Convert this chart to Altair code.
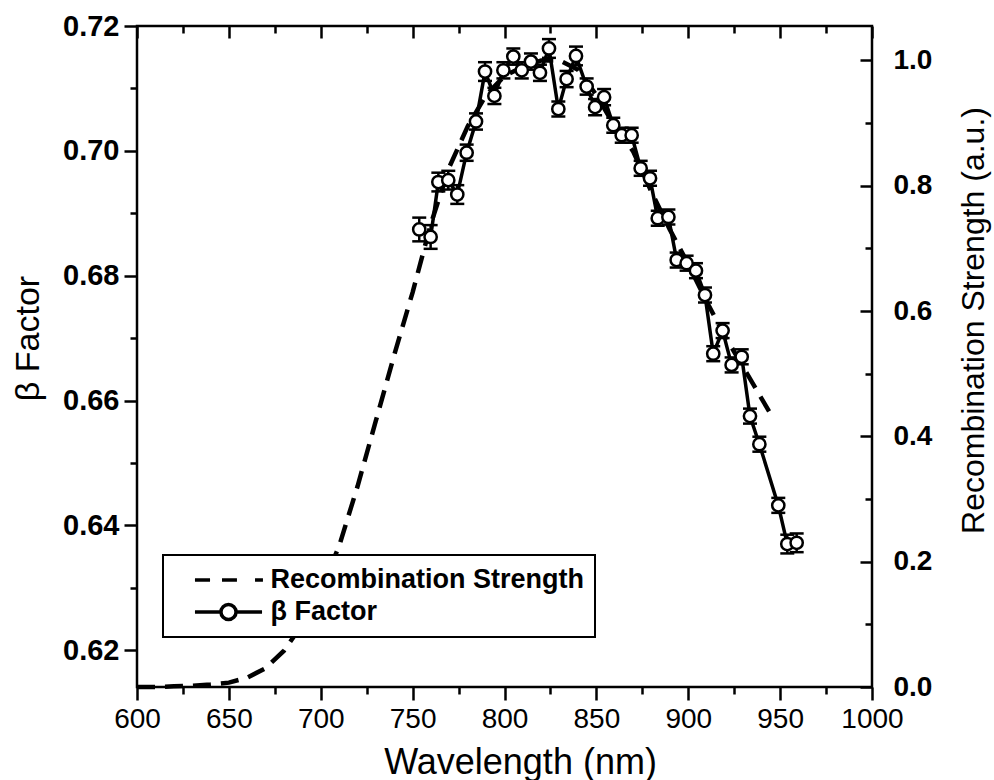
import altair as alt
import pandas as pd

# ---- data ----
wl_beta = [753.6, 759.8, 764.0, 769.4, 774.3, 779.4, 784.5, 789.4, 794.5, 799.4,
           804.8, 809.4, 814.4, 819.3, 824.2, 829.3, 833.8, 838.9, 844.7, 849.3,
           854.2, 859.2, 863.8, 869.2, 874.1, 879.2, 883.4, 889.2, 893.7, 899.1,
           904.2, 909.1, 913.6, 918.7, 923.6, 929.1, 933.6, 938.7, 949.0, 953.9, 959.0]
beta = [0.6874, 0.6862, 0.6950, 0.6953, 0.6930, 0.6997, 0.7047, 0.7127, 0.7088, 0.7129,
        0.7151, 0.7129, 0.7143, 0.7125, 0.7164, 0.7067, 0.7115, 0.7152, 0.7103, 0.7070,
        0.7086, 0.7041, 0.7025, 0.7025, 0.6972, 0.6956, 0.6892, 0.6894, 0.6825, 0.6820,
        0.6808, 0.6769, 0.6675, 0.6712, 0.6657, 0.6670, 0.6575, 0.6530, 0.6432, 0.6370, 0.6372]
beta_err = [0.0019, 0.0019, 0.0015, 0.0015, 0.0015, 0.0013, 0.0013, 0.0015, 0.0013, 0.0013,
            0.0013, 0.0013, 0.0013, 0.0013, 0.0015, 0.0012, 0.0013, 0.0015, 0.0013, 0.0013,
            0.0013, 0.0012, 0.0012, 0.0012, 0.0012, 0.0012, 0.0012, 0.0012, 0.0012, 0.0012,
            0.0012, 0.0012, 0.0012, 0.0012, 0.0012, 0.0012, 0.0012, 0.0012, 0.0012, 0.0015, 0.0015]

wl_rec = [600, 610, 620, 630, 640, 650, 660, 670, 680, 690, 700, 710, 720, 730, 740,
          750, 760, 770, 780, 790, 800, 810, 820, 830, 840, 850, 860, 870, 880, 890,
          900, 910, 920, 930, 940, 944]
rec = [0.0, 0.0, 0.001, 0.002, 0.004, 0.007, 0.015, 0.03, 0.058, 0.10, 0.155, 0.225, 0.32, 0.425, 0.53,
       0.63, 0.74, 0.83, 0.895, 0.945, 0.975, 0.99, 1.0, 1.0, 0.985, 0.945, 0.895, 0.855, 0.79, 0.73,
       0.675, 0.615, 0.56, 0.51, 0.46, 0.44]

series_names = ["Recombination Strength", "β Factor"]

x_major = [600, 650, 700, 750, 800, 850, 900, 950, 1000]
x_minor = [625, 675, 725, 775, 825, 875, 925, 975]
yl_major = [0.62, 0.64, 0.66, 0.68, 0.70, 0.72]
yl_minor = [0.63, 0.65, 0.67, 0.69, 0.71]
yr_major = [0.0, 0.2, 0.4, 0.6, 0.8, 1.0]
yr_minor = [0.1, 0.3, 0.5, 0.7, 0.9]

df_beta = pd.DataFrame({
    "wl": wl_beta,
    "beta": beta,
    "lo": [b - e for b, e in zip(beta, beta_err)],
    "hi": [b + e for b, e in zip(beta, beta_err)],
})
df_rec = pd.DataFrame({"wl": wl_rec, "rec": rec, "series": series_names[0]})

FONT = "Liberation Sans"
xs = alt.Scale(domain=[600, 1000], nice=False, zero=False)
ysb = alt.Scale(domain=[0.6141, 0.72], nice=False, zero=False)
ysr = alt.Scale(domain=[0, 1.055], nice=False, zero=False)

common = dict(grid=False, domain=False, tickColor="black", tickWidth=2.5,
              labelColor="black", titleColor="black")

ax_xb = alt.Axis(orient="bottom", values=x_major, format="d", tickSize=13, labelFont=FONT,
                 labelFontSize=28, labelPadding=5, labelFlush=False, labelOverlap=False,
                 labelBound=False,
                 title="Wavelength (nm)", titleFont=FONT, titleFontSize=36, titleFontWeight="normal",
                 titleX=383, titleY=86, titleAlign="center", titleBaseline="alphabetic", **common)
ax_xb_min = alt.Axis(orient="bottom", values=x_minor, tickSize=7, labels=False, title=None, **common)
ax_xt = alt.Axis(orient="top", values=x_major, tickSize=12, offset=-12, labels=False, title=None, **common)
ax_xt_min = alt.Axis(orient="top", values=x_minor, tickSize=7, offset=-7, labels=False, title=None, **common)

ax_yl = alt.Axis(orient="left", values=yl_major, format=".2f", tickSize=13, labelFont=FONT,
                 labelFontSize=29, labelFontWeight="bold", labelPadding=5, labelFlush=False,
                 labelOverlap=False, labelBound=False,
                 title="β Factor", titleFont=FONT, titleFontSize=34, titleFontWeight="normal",
                 titleAngle=270, titleX=-109, titleY=312, titleAlign="center", titleBaseline="middle",
                 **common)
ax_yl_min = alt.Axis(orient="left", values=yl_minor, tickSize=7, labels=False, title=None, **common)
ax_yr = alt.Axis(orient="right", values=yr_major, format=".1f", tickSize=12, offset=-12, labelFont=FONT,
                 labelFontSize=28, labelFontWeight="bold", labelPadding=21, labelFlush=False,
                 labelOverlap=False, labelBound=False,
                 title="Recombination Strength (a.u.)", titleFont=FONT, titleFontSize=32,
                 titleFontWeight="normal", titleAngle=270, titleX=113, titleY=294,
                 titleAlign="center", titleBaseline="middle", **common)
ax_yr_min = alt.Axis(orient="right", values=yr_minor, tickSize=7, offset=-7, labels=False, title=None, **common)

base_b = alt.Chart(df_beta)
beta_line = base_b.mark_line(color="black", strokeWidth=3.5).encode(
    x=alt.X("wl:Q", scale=xs, axis=ax_xb),
    y=alt.Y("beta:Q", scale=ysb, axis=ax_yl),
)
beta_rule = base_b.mark_rule(color="black", strokeWidth=2.5, opacity=1).encode(
    x=alt.X("wl:Q", scale=xs, axis=ax_xb_min),
    y=alt.Y("lo:Q", scale=ysb, axis=ax_yl_min),
    y2="hi:Q",
)
cap_lo = base_b.mark_tick(color="black", orient="horizontal", size=14, thickness=2.5, opacity=1).encode(
    x=alt.X("wl:Q", scale=xs, axis=None),
    y=alt.Y("lo:Q", scale=ysb, axis=None),
)
cap_hi = base_b.mark_tick(color="black", orient="horizontal", size=14, thickness=2.5, opacity=1).encode(
    x=alt.X("wl:Q", scale=xs, axis=None),
    y=alt.Y("hi:Q", scale=ysb, axis=None),
)
beta_pts = base_b.mark_point(shape="circle", size=150, filled=True, fill="white", stroke="black",
                             strokeWidth=2.5, opacity=1).encode(
    x=alt.X("wl:Q", scale=xs, axis=None),
    y=alt.Y("beta:Q", scale=ysb, axis=None),
)
beta_group = alt.layer(beta_line, beta_rule, cap_lo, cap_hi, beta_pts).resolve_axis(
    x="independent", y="independent")

dash_path = "M-2.58,0H-1.42M-0.5,0H0.65M2.04,0H2.65"
beta_path = ("M-2.58,0H-0.6M0.6,0H2.58M0.58,0A0.58,0.58 0 1,0 -0.58,0"
             "A0.58,0.58 0 1,0 0.58,0")

base_r = alt.Chart(df_rec)
rec_line = base_r.mark_line(color="black", strokeWidth=4.5, strokeDash=[18, 10]).encode(
    x=alt.X("wl:Q", scale=xs, axis=ax_xt),
    y=alt.Y("rec:Q", scale=ysr, axis=ax_yr),
)
rec_leg = base_r.mark_point(opacity=0, filled=False, color="black").encode(
    x=alt.X("wl:Q", scale=xs, axis=ax_xt_min),
    y=alt.Y("rec:Q", scale=ysr, axis=ax_yr_min),
    shape=alt.Shape("series:N",
                    scale=alt.Scale(domain=series_names, range=[dash_path, beta_path]),
                    legend=alt.Legend(orient="none", legendX=26, legendY=529, title=None,
                                      padding=10, strokeColor="black", fillColor="white",
                                      symbolSize=676,
                                      symbolStrokeWidth=3.5, symbolOffset=40.5, labelOffset=27,
                                      labelFont=FONT, labelFontSize=27, labelFontWeight="bold",
                                      labelColor="black", labelLimit=0, rowPadding=4,
                                      symbolOpacity=1,
                                      symbolFillColor="white", symbolStrokeColor="black")),
)
rec_group = alt.layer(rec_line, rec_leg).resolve_axis(x="independent", y="independent")

chart = (
    alt.layer(rec_group, beta_group)
    .resolve_scale(y="independent")
    .resolve_axis(x="independent", y="independent")
    .properties(width=735, height=661,
                autosize=alt.AutoSizeParams(type="none"),
                padding={"left": 137, "top": 26, "right": 122, "bottom": 93},
                background="white")
    .configure(font=FONT)
    .configure_view(stroke="black", strokeWidth=2.5)
    .configure_legend(strokeWidth=2)
)

chart.save("out.html", embed_options={"renderer": "svg", "actions": False})
